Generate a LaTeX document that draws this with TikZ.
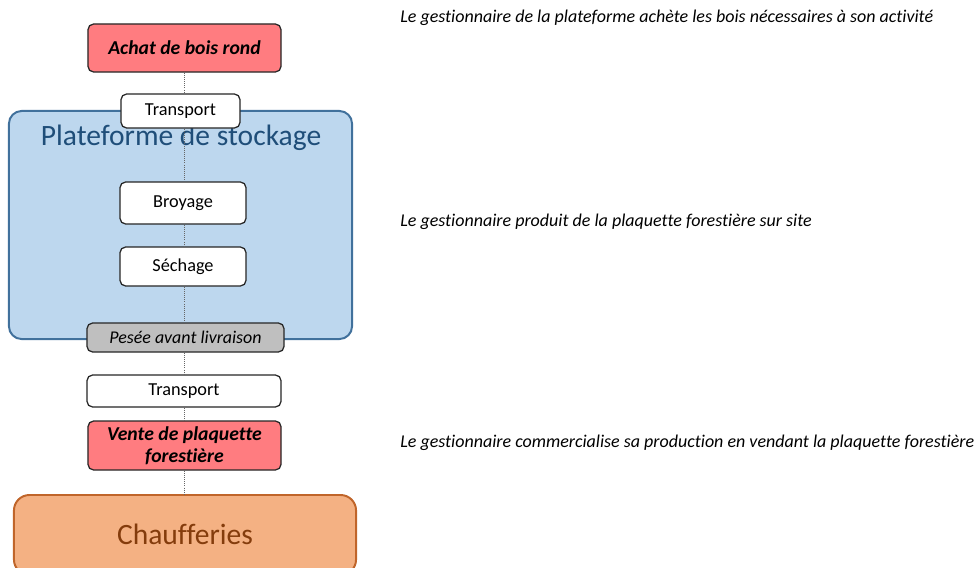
\documentclass[tikz,border=0pt]{standalone}
\usepackage{fontspec}
\setmainfont[Ligatures=NoCommon]{Carlito}
\usetikzlibrary{positioning}
\definecolor{achatred}{HTML}{FF7C80}
\definecolor{platfill}{HTML}{BDD7EE}
\definecolor{platdraw}{HTML}{41719C}
\definecolor{plattext}{HTML}{1F4E79}
\definecolor{chauffill}{HTML}{F4B183}
\definecolor{chaufdraw}{HTML}{C0652A}
\definecolor{chauftext}{HTML}{843C0C}
\definecolor{peseefill}{HTML}{BFBFBF}

\begin{document}
\begin{tikzpicture}[x=0.025cm,y=-0.025cm,
    stepbox/.style={draw=black!85, line width=0.9pt, rounded corners=4pt, fill=white, inner sep=0pt, align=center, font=\fontsize{13}{15}\selectfont},
    salebox/.style={stepbox, fill=achatred, font=\fontsize{14}{16}\selectfont\bfseries\itshape},
    link/.style={densely dotted, gray!80!black, line width=0.5pt},
    remark/.style={anchor=west, inner sep=0pt, font=\fontsize{12.8}{15}\selectfont\itshape}]
    \useasboundingbox (0,0) rectangle (978,567);
    \clip (0,0) rectangle (978,567);
    % storage site and heating plants
    \node[draw=platdraw, line width=1.4pt, fill=platfill, rounded corners=9pt, minimum width=8.575cm, minimum height=5.7cm] (plat) at (180.5,225) {};
    \node[text=plattext, font=\fontsize{21}{24}\selectfont] (plattitle) at (181,138) {Plateforme de stockage};
    \node[draw=chaufdraw, line width=1.4pt, fill=chauffill, rounded corners=11pt, minimum width=8.55cm, minimum height=2cm] (chauf) at (185,535) {};
    \node[text=chauftext, font=\fontsize{21}{24}\selectfont] (chauftitle) at (185,534) {Chaufferies};
    % process steps
    \node[salebox, minimum width=4.825cm, minimum height=1.2cm] (achat) at (184.5,48) {Achat de bois rond};
    \node[stepbox, minimum width=2.975cm, minimum height=0.85cm] (trans1) at (180.5,111) {Transport};
    \node[stepbox, minimum width=3.15cm, minimum height=1.05cm] (broy) at (183,203) {Broyage};
    \node[stepbox, minimum width=3.15cm, minimum height=0.975cm] (sech) at (183,266.5) {Séchage};
    \node[stepbox, fill=peseefill, minimum width=4.925cm, minimum height=0.725cm, font=\fontsize{12.75}{14}\selectfont\itshape] (pesee) at (185.5,337.5) {Pesée avant livraison};
    \node[stepbox, minimum width=4.85cm, minimum height=0.8cm] (trans2) at (184,391) {Transport};
    \node[salebox, minimum width=4.825cm, minimum height=1.225cm] (vente) at (184.5,445.5) {Vente de plaquette\\forestière};
    % dotted flow line
    \draw[link] (achat.south) -- (achat.south |- trans1.north);
    \draw[link] (trans1.south -| achat.south) -- (achat.south |- broy.north);
    \draw[link] (broy.south -| achat.south) -- (achat.south |- sech.north);
    \draw[link] (sech.south -| achat.south) -- (achat.south |- pesee.north);
    \draw[link] (pesee.south -| achat.south) -- (achat.south |- trans2.north);
    \draw[link] (trans2.south -| achat.south) -- (achat.south |- vente.north);
    \draw[link] (vente.south -| achat.south) -- (achat.south |- chauf.north);
    % comments
    \node[remark] (rem1) at (400,18) {Le gestionnaire de la plateforme achète les bois nécessaires à son activité};
    \node[remark] (rem2) at (400,222) {Le gestionnaire produit de la plaquette forestière sur site};
    \node[remark] (rem3) at (400,443) {Le gestionnaire commercialise sa production en vendant la plaquette forestière};
\end{tikzpicture}
\end{document}
